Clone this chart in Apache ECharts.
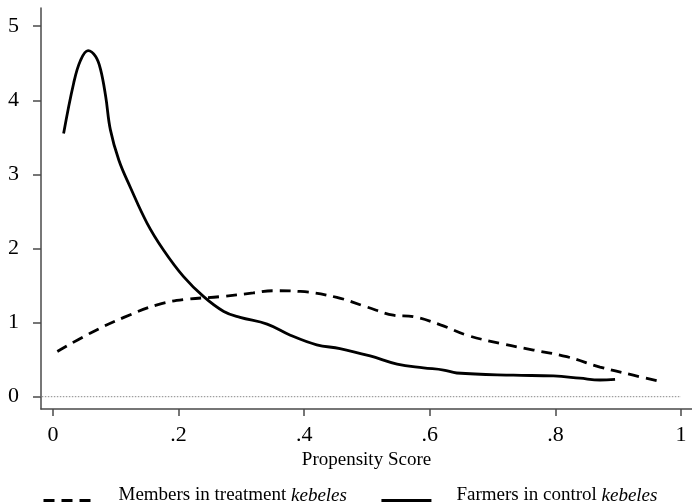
<!DOCTYPE html>
<html>
<head>
<meta charset="utf-8">
<script src="https://cdn.jsdelivr.net/npm/echarts@6/dist/echarts.min.js"></script>
<style>html,body{margin:0;padding:0;background:#fff;}#chart{width:692px;height:504px;}</style>
</head>
<body>
<div id="chart"></div>
<script>
// Data
const seriesNames = ['Members in treatment kebeles', 'Farmers in control kebeles'];
const treatmentX = [0.007,0.060,0.113,0.166,0.208,0.266,0.319,0.351,0.394,0.452,0.500,0.542,0.574,0.617,0.659,0.712,0.765,0.818,0.871,0.924,0.969];
const treatmentY = [0.61,0.86,1.07,1.24,1.31,1.35,1.40,1.43,1.42,1.34,1.21,1.10,1.08,0.97,0.83,0.72,0.63,0.54,0.40,0.29,0.20];
const controlX = [0.017,0.033,0.044,0.056,0.068,0.076,0.084,0.0915,0.105,0.123,0.150,0.176,0.208,0.240,0.272,0.298,0.341,0.378,0.420,0.457,0.505,0.548,0.590,0.622,0.643,0.733,0.797,0.839,0.871,0.895];
const controlY = [3.55,4.23,4.54,4.67,4.59,4.41,4.05,3.60,3.19,2.83,2.34,1.98,1.62,1.35,1.15,1.07,0.98,0.83,0.70,0.65,0.55,0.44,0.39,0.36,0.32,0.29,0.28,0.25,0.225,0.235];
const xTickValues = [0, 0.2, 0.4, 0.6, 0.8, 1];
const xTickLabels = ['0', '.2', '.4', '.6', '.8', '1'];
const yTickValues = [0, 1, 2, 3, 4, 5];
const yTickLabels = ['0', '1', '2', '3', '4', '5'];
const zeroLineX = [-0.032, 1.0];
const xAxisName = 'Propensity Score';

const zip = (a, b) => a.map((v, i) => [v, b[i]]);
const FONT = '"Liberation Serif", "Times New Roman", serif';
const axisColor = '#4a4a4a';

const chart = echarts.init(document.getElementById('chart'), null, {renderer: 'canvas'});
chart.setOption({
  animation: false,
  backgroundColor: '#fff',
  grid: {left: 41, top: 8, right: 0, bottom: 95, containLabel: false},
  xAxis: {
    type: 'value',
    min: -0.019, max: 1.0175,
    name: xAxisName,
    nameLocation: 'middle',
    nameGap: 34,
    nameTextStyle: {fontFamily: FONT, fontSize: 19, color: '#000'},
    splitLine: {show: false},
    axisLine: {show: true, onZero: false, lineStyle: {color: axisColor, width: 1.5}},
    axisTick: {show: true, length: 7, customValues: xTickValues, lineStyle: {color: axisColor, width: 1.5}},
    axisLabel: {
      customValues: xTickValues,
      margin: 15,
      fontFamily: FONT, fontSize: 22, color: '#000',
      formatter: v => { const i = xTickValues.findIndex(t => Math.abs(t - v) < 1e-9); return i >= 0 ? xTickLabels[i] : ''; }
    }
  },
  yAxis: {
    type: 'value',
    min: -0.166, max: 5.245,
    splitLine: {show: false},
    axisLine: {show: true, onZero: false, lineStyle: {color: axisColor, width: 1.5}},
    axisTick: {show: true, length: 8, customValues: yTickValues, lineStyle: {color: axisColor, width: 1.5}},
    axisLabel: {
      customValues: yTickValues,
      margin: 22,
      fontFamily: FONT, fontSize: 22, color: '#000',
      formatter: v => { const i = yTickValues.findIndex(t => Math.abs(t - v) < 1e-9); return i >= 0 ? yTickLabels[i] : ''; }
    }
  },
  legend: {
    data: seriesNames,
    left: 37,
    top: 481,
    itemWidth: 50,
    itemHeight: 20,
    itemGap: 33,
    itemStyle: {color: 'rgba(0,0,0,0)', borderWidth: 0, opacity: 0},
    lineStyle: {width: 3},
    formatter: name => name.replace('kebeles', '{i|kebeles}'),
    textStyle: {
      fontFamily: FONT, fontSize: 19, color: '#000',
      padding: [0, 0, 10, 20],
      rich: {i: {fontFamily: FONT, fontSize: 19, fontStyle: 'italic', color: '#000'}}
    }
  },
  series: [
    {
      name: seriesNames[0],
      type: 'line',
      data: zip(treatmentX, treatmentY),
      smooth: 0.4,
      showSymbol: false,
      symbol: 'none',
      lineStyle: {color: '#000', width: 2.8, type: [11, 7]},
      itemStyle: {color: '#000'}
    },
    {
      name: seriesNames[1],
      type: 'line',
      data: zip(controlX, controlY),
      smooth: 0.4,
      showSymbol: false,
      symbol: 'none',
      lineStyle: {color: '#000', width: 2.8},
      itemStyle: {color: '#000'}
    },
    {
      name: 'zero',
      type: 'line',
      data: zeroLineX.map(x => [x, 0]),
      clip: false,
      showSymbol: false,
      symbol: 'none',
      silent: true,
      z: 1,
      lineStyle: {color: '#888', width: 1, type: [1.5, 1.5]}
    }
  ]
});
</script>
</body>
</html>
